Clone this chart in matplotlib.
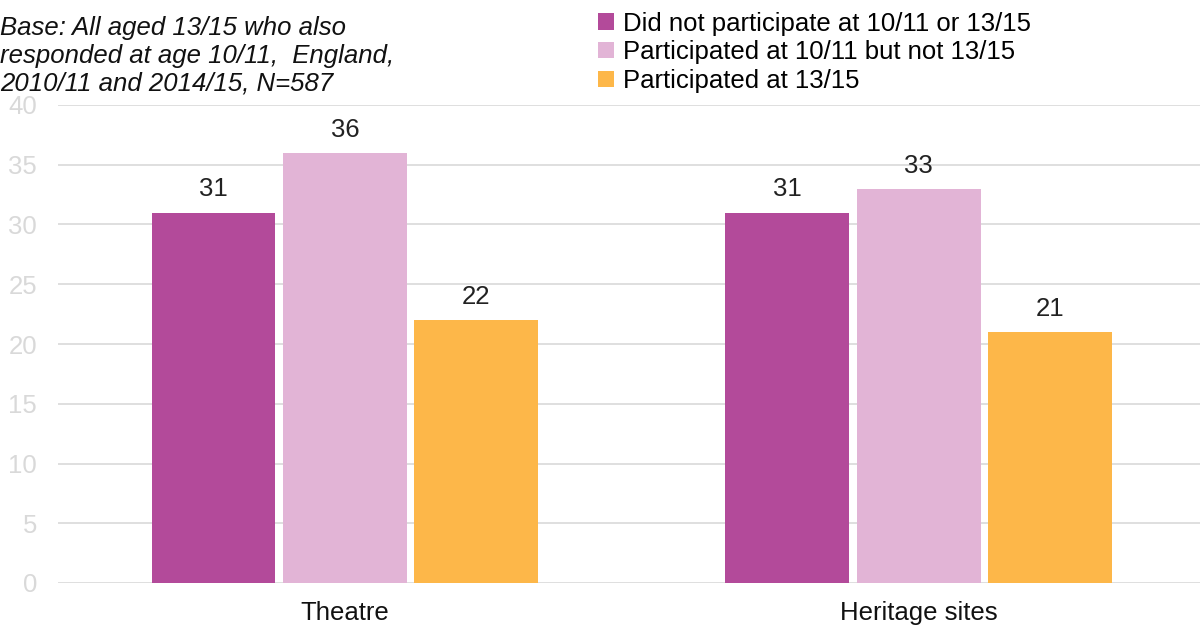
import matplotlib.pyplot as plt
from matplotlib.patches import Patch
import numpy as np

plt.rcParams['font.family'] = ['Liberation Sans', 'DejaVu Sans']

categories = ['Theatre', 'Heritage sites']
series_names = ['Did not participate at 10/11 or 13/15',
                'Participated at 10/11 but not 13/15',
                'Participated at 13/15']
did_not = [31, 31]
past_only = [36, 33]
current = [22, 21]
colors = ['#B34A9A', '#E2B4D6', '#FDB749']

fig = plt.figure(figsize=(12, 6.26), dpi=100)
ax = fig.add_axes([58 / 1200, 1 - 583 / 626, 1 - 58 / 1200, (583 - 105) / 626])

x = np.arange(len(categories))
width = 0.216
offsets = [-0.229, 0.0, 0.229]
for vals, off, col, name in zip([did_not, past_only, current], offsets, colors, series_names):
    bars = ax.bar(x + off, vals, width, color=col, edgecolor='none', label=name, zorder=3)
    ax.bar_label(bars, padding=8, fontsize=18.5, color='#222222')

ax.set_ylim(0, 40)
ax.set_xlim(-0.5, 1.49)
ax.set_yticks(range(0, 41, 5))
ax.set_xticks(x)
ax.set_xticklabels(categories, fontsize=18.5, color='#111111')
ax.tick_params(axis='y', length=0, pad=15, labelsize=18.5, labelcolor='#D9D9D9')
ax.tick_params(axis='x', length=0, pad=13)
ax.grid(axis='y', color='#D9D9D9', linewidth=1.2, zorder=0)
for s in ax.spines.values():
    s.set_visible(False)

fig.text(0.0, 0.974, 'Base: All aged 13/15 who also\nresponded at age 10/11,  England,\n2010/11 and 2014/15, N=587',
         fontsize=18.5, style='italic', va='top', ha='left', linespacing=1.2, color='#111111')

handles = [Patch(facecolor=c, edgecolor='none') for c in colors]
fig.legend(handles, series_names, loc='upper left', bbox_to_anchor=(0.49, 0.998),
           frameon=False, fontsize=18.5, handlelength=0.6, handleheight=0.6,
           handletextpad=0.35, labelspacing=0.18, borderaxespad=0)

fig.savefig('out.png', dpi=100)
